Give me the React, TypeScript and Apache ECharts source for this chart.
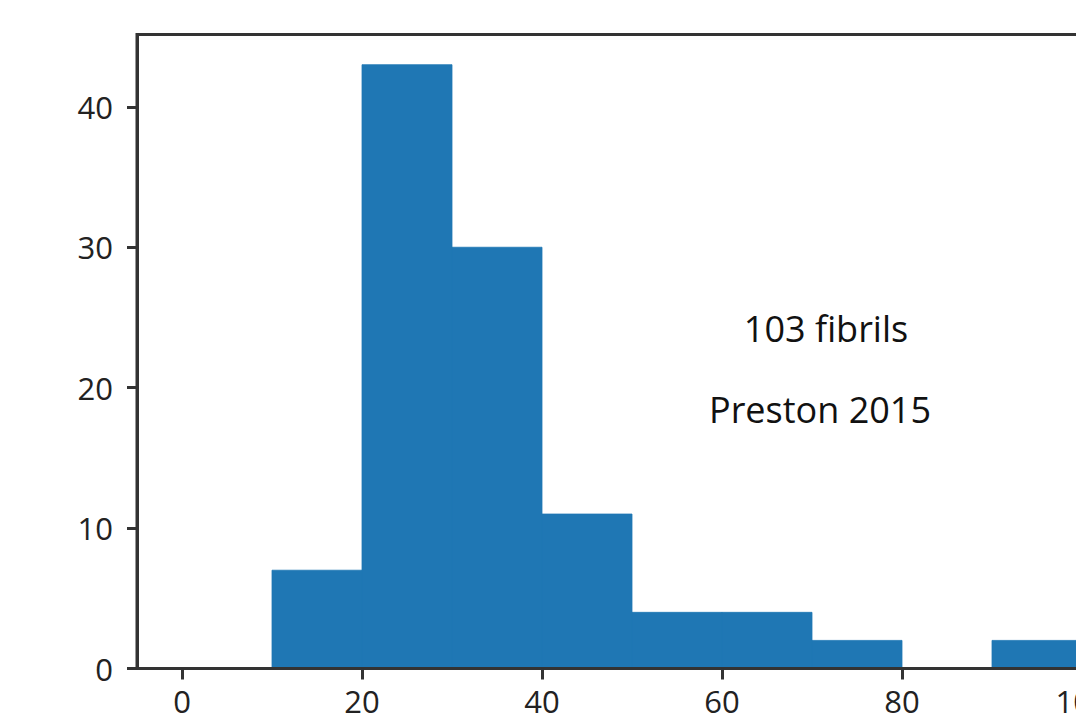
import React, { useEffect, useRef } from "react";
import * as echarts from "echarts";

// Histogram data (fibril counts per bin)
const binEdges = [0, 10, 20, 30, 40, 50, 60, 70, 80, 90, 100];
const counts = [0, 7, 43, 30, 11, 4, 4, 2, 0, 2];
const xTicks = [0, 20, 40, 60, 80, 100];
const yTicks = [0, 10, 20, 30, 40];
const annotations = ["103 fibrils", "Preston 2015"];

const FONT = "'Open Sans', 'Noto Sans', sans-serif";
const AXIS_COLOR = "#333333";
const BAR_COLOR = "#1f77b4";

export default function App() {
  const ref = useRef<HTMLDivElement>(null);

  useEffect(() => {
    if (!ref.current) return;
    const chart = echarts.init(ref.current, undefined, { renderer: "svg" });

    const bins = counts.map((c, i) => [binEdges[i], binEdges[i + 1], c]);

    chart.setOption({
      animation: false,
      backgroundColor: "#ffffff",
      grid: {
        left: 137,
        top: 34.5,
        width: 990,
        height: 634,
        outerBoundsMode: "none",
        containLabel: false,
        show: true,
        borderColor: AXIS_COLOR,
        borderWidth: 3,
        backgroundColor: "transparent",
      },
      xAxis: {
        type: "value",
        min: -5,
        max: 105,
        z: 10,
        splitLine: { show: false },
        axisLine: { show: true, onZero: false, lineStyle: { color: AXIS_COLOR, width: 3 } },
        axisTick: {
          show: true,
          length: 11,
          customValues: xTicks,
          lineStyle: { color: AXIS_COLOR, width: 3 },
        },
        axisLabel: {
          customValues: xTicks,
          margin: 19,
          fontFamily: FONT,
          fontSize: 31,
          lineHeight: 26,
          color: "#222222",
          hideOverlap: false,
        },
      },
      yAxis: {
        type: "value",
        min: 0,
        max: 45.15,
        z: 10,
        splitLine: { show: false },
        axisLine: { show: true, onZero: false, lineStyle: { color: AXIS_COLOR, width: 3 } },
        axisTick: {
          show: true,
          length: 10,
          customValues: yTicks,
          lineStyle: { color: AXIS_COLOR, width: 3 },
        },
        axisLabel: {
          customValues: yTicks,
          margin: 24,
          fontFamily: FONT,
          fontSize: 31,
          color: "#222222",
        },
      },
      series: [
        {
          type: "custom",
          data: bins,
          encode: { x: [0, 1], y: 2 },
          clip: false,
          renderItem: (params: any, api: any) => {
            const p0 = api.coord([api.value(0), 0]);
            const p1 = api.coord([api.value(1), api.value(2)]);
            return {
              type: "rect",
              shape: {
                x: p0[0],
                y: p1[1],
                width: p1[0] - p0[0],
                height: p0[1] - p1[1],
              },
              style: { fill: BAR_COLOR, stroke: BAR_COLOR, lineWidth: 0.8 },
            };
          },
        },
      ],
      graphic: [
        {
          type: "text",
          x: 826,
          y: 328.5,
          style: {
            text: annotations[0],
            fontFamily: FONT,
            fontSize: 36,
            fill: "#111111",
            align: "center",
            verticalAlign: "middle",
          },
        },
        {
          type: "text",
          x: 820,
          y: 409,
          style: {
            text: annotations[1],
            fontFamily: FONT,
            fontSize: 36,
            fill: "#111111",
            align: "center",
            verticalAlign: "middle",
          },
        },
      ],
    });

    return () => chart.dispose();
  }, []);

  return (
    <div
      ref={ref}
      style={{ position: "absolute", left: 0, top: 0, width: 1076, height: 715 }}
    />
  );
}
